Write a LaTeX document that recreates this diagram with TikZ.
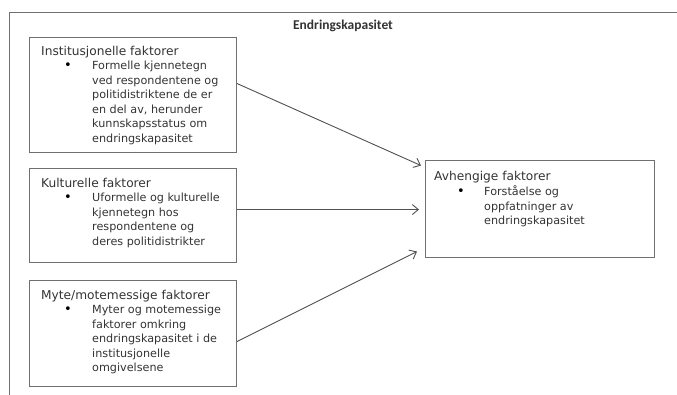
\documentclass[tikz,border=0pt]{standalone}
\usepackage{fontspec}
\setmainfont{DejaVu Sans}
\newfontfamily\titlefont{Carlito}
\usetikzlibrary{arrows.meta,calc}
\definecolor{boxgray}{HTML}{707070}
\definecolor{linegray}{HTML}{505050}
\definecolor{textgray}{HTML}{333333}

\begin{document}
\begin{tikzpicture}[x=1pt,y=-1pt,
    frame/.style={draw=boxgray,line width=1pt},
    box/.style={draw=boxgray,line width=1.1pt,anchor=north west,inner sep=0pt},
    head/.style={anchor=base west,inner sep=0pt,text=textgray,font=\fontsize{12.2}{14.5}\selectfont},
    item/.style={head,font=\fontsize{11.2}{14.5}\selectfont},
    dot/.style={head,text=black,font=\fontsize{13}{14.5}\selectfont},
    link/.style={draw=linegray,line width=0.9pt,-{Straight Barb[length=6pt,width=10pt]}}]
      \useasboundingbox (0,0) rectangle (677,394);
      % outer frame, cut off at the right and at the bottom
      \draw[frame] (9,400)--(9,12)--(690,12);
      \node [anchor=center,text=textgray,font=\titlefont\bfseries\fontsize{13.5}{16}\selectfont] (title) at (343,26) {Endringskapasitet};

      % left boxes
      \node [box,minimum width=207pt,minimum height=115pt] (inst) at (29,37) {};
      \node [head] (insthead) at ($(inst.north west)+(12,18)$) {Institusjonelle faktorer};
      \node [dot] (instdot) at ($(insthead.base west)+(23,14.5)$) {\textbullet};
      \node [item] (institem) at ($(insthead.base west)+(51,14.5)$) {\begin{tabular}[t]{@{}l@{}}Formelle kjennetegn\\ved respondentene og\\politidistriktene de er\\en del av, herunder\\kunnskapsstatus om\\endringskapasitet\end{tabular}};

      \node [box,minimum width=207pt,minimum height=94pt] (kult) at (29,168) {};
      \node [head] (kulthead) at ($(kult.north west)+(12,19)$) {Kulturelle faktorer};
      \node [dot] (kultdot) at ($(kulthead.base west)+(23,14.5)$) {\textbullet};
      \node [item] (kultitem) at ($(kulthead.base west)+(51,14.5)$) {\begin{tabular}[t]{@{}l@{}}Uformelle og kulturelle\\kjennetegn hos\\respondentene og\\deres politidistrikter\end{tabular}};

      \node [box,minimum width=207pt,minimum height=106pt] (myte) at (29,280) {};
      \node [head] (mytehead) at ($(myte.north west)+(12,19)$) {Myte/motemessige faktorer};
      \node [dot] (mytedot) at ($(mytehead.base west)+(23,14.5)$) {\textbullet};
      \node [item] (myteitem) at ($(mytehead.base west)+(51,14.5)$) {\begin{tabular}[t]{@{}l@{}}Myter og motemessige\\faktorer omkring\\endringskapasitet i de\\institusjonelle\\omgivelsene\end{tabular}};

      % right box
      \node [box,minimum width=229pt,minimum height=97pt] (avh) at (425,160) {};
      \node [head] (avhhead) at ($(avh.north west)+(9,20)$) {Avhengige faktorer};
      \node [dot] (avhdot) at ($(avhhead.base west)+(23,15.5)$) {\textbullet};
      \node [item] (avhitem) at ($(avhhead.base west)+(50,15.5)$) {\begin{tabular}[t]{@{}l@{}}Forståelse og\\oppfatninger av\\endringskapasitet\end{tabular}};

      % arrows
      \coordinate (in1) at ($(avh.west)+(-4,-43.5)$);
      \coordinate (in2) at ($(avh.west)+(-6,0.5)$);
      \coordinate (in3) at ($(avh.west)+(-8,42.5)$);
      \draw[link] ($(inst.east)+(0,-11.5)$)--(in1);
      \draw[link] ($(kult.east)+(0,-6)$)--(in2);
      \draw[link] ($(myte.east)+(0,8)$)--(in3);
    \end{tikzpicture}
\end{document}
